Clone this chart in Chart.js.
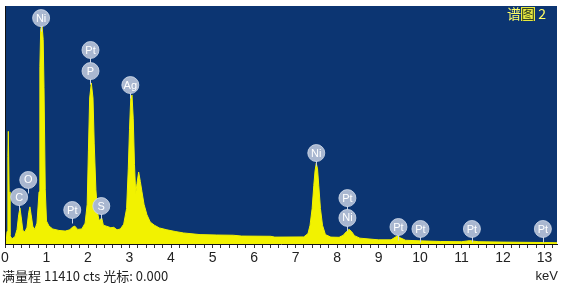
<!DOCTYPE html>
<html>
<head>
<meta charset="utf-8">
<script src="https://cdn.jsdelivr.net/npm/chart.js@4.4.1/dist/chart.umd.min.js"></script>
<style>
html,body{margin:0;padding:0;background:#fff;}
#wrap{width:561px;height:294px;}
</style>
</head>
<body>
<div id="wrap"><canvas id="c" width="561" height="294"></canvas></div>
<script>
// Spectrum (energy in keV, counts)
const keV = [0.00,0.03,0.05,0.07,0.08,0.10,0.12,0.17,0.24,0.29,0.33,0.36,0.39,0.43,0.48,0.53,0.57,0.60,0.63,0.67,0.72,0.77,0.82,0.84,0.86,0.89,0.92,0.94,0.97,1.00,1.06,1.15,1.30,1.45,1.56,1.62,1.68,1.75,1.85,1.93,1.98,2.01,2.04,2.08,2.12,2.15,2.19,2.23,2.27,2.30,2.33,2.37,2.45,2.55,2.62,2.70,2.78,2.86,2.93,2.97,3.00,3.03,3.06,3.09,3.12,3.15,3.18,3.22,3.26,3.30,3.35,3.42,3.50,3.60,3.72,3.90,4.10,4.30,4.70,5.10,5.50,5.70,6.40,6.50,7.20,7.30,7.35,7.40,7.44,7.47,7.50,7.53,7.56,7.60,7.65,7.72,7.85,8.05,8.15,8.22,8.29,8.35,8.42,8.55,9.00,9.30,9.40,9.46,9.52,9.65,10.00,10.50,11.00,11.20,11.40,12.00,13.00,13.30];
const counts = [0,150,600,4200,5400,2500,400,250,350,700,1400,1730,1300,650,580,800,1500,1780,1400,850,700,1000,2500,8500,10300,10550,9800,7500,2600,1100,860,720,650,620,680,800,860,700,720,1000,1900,4500,7000,7720,7000,4800,2600,1500,1100,1200,1250,900,850,780,800,680,720,950,1700,3600,5500,7000,7140,6000,3800,2400,2900,3450,3000,2500,1900,1400,1050,900,770,680,600,530,450,430,420,380,370,330,340,500,900,1700,2800,3500,3880,3600,2800,1700,900,450,330,320,420,580,700,600,400,280,200,200,320,400,300,180,150,120,110,160,110,90,70,60];

// Element markers
const labelNames = ['Ni','Pt','P','Ag','C','O','Pt','S','Ni','Pt','Ni','Pt','Pt','Pt','Pt'];
const labelKeV   = [0.87,2.06,2.06,3.02,0.34,0.56,1.62,2.32,7.50,8.25,8.25,9.48,10.01,11.25,12.96];
const labelCts   = [10830,9300,8290,7620,2250,3070,1630,1820,4360,2200,1250,815,720,720,720];

const fullScale = 11410;
const xMin = 0, xMax = 13.3;
const tickStep = 0.2;
const titleText = '谱图 2';
const footerText = '满量程 11410 cts 光标: 0.000';
const unitText = 'keV';

const BLUE = '#0c3572';
const YELLOW = '#f2f200';

const bgPlugin = {
  id: 'bg',
  beforeDraw(chart) {
    const {ctx, chartArea: a} = chart;
    ctx.save();
    ctx.fillStyle = '#ffffff';
    ctx.fillRect(0, 0, chart.width, chart.height);
    ctx.fillStyle = BLUE;
    ctx.fillRect(a.left, a.top, a.right - a.left, a.bottom - a.top);
    ctx.restore();
  },
  afterDatasetsDraw(chart) {
    const {ctx, chartArea: a, scales} = chart;
    const xs = scales.x, ys = scales.y;
    ctx.save();
    // left dark edge
    ctx.strokeStyle = '#111';
    ctx.lineWidth = 1;
    ctx.beginPath();
    ctx.moveTo(a.left + 0.5, a.top);
    ctx.lineTo(a.left + 0.5, a.bottom);
    ctx.stroke();
    // markers
    const r = 8.5;
    for (let i = 0; i < labelNames.length; i++) {
      const px = xs.getPixelForValue(labelKeV[i]);
      const py = ys.getPixelForValue(labelCts[i]);
      ctx.strokeStyle = '#c8d2e4';
      ctx.lineWidth = 1;
      ctx.beginPath();
      ctx.moveTo(Math.round(px) + 0.5, py);
      ctx.lineTo(Math.round(px) + 0.5, py + r + 5);
      ctx.stroke();
    }
    for (let i = 0; i < labelNames.length; i++) {
      const px = xs.getPixelForValue(labelKeV[i]);
      const py = ys.getPixelForValue(labelCts[i]);
      ctx.beginPath();
      ctx.arc(px, py, r, 0, Math.PI * 2);
      ctx.fillStyle = '#a9b7d0';
      ctx.fill();
      ctx.strokeStyle = 'rgba(210,220,235,0.8)';
      ctx.lineWidth = 1;
      ctx.stroke();
      ctx.fillStyle = '#ffffff';
      ctx.font = '11px "Liberation Sans", Arial, sans-serif';
      ctx.textAlign = 'center';
      ctx.textBaseline = 'middle';
      ctx.fillText(labelNames[i], px, py + 0.5);
    }
    // title top right
    ctx.font = '14px "Noto Sans CJK SC", sans-serif';
    ctx.textBaseline = 'middle';
    ctx.textAlign = 'left';
    const parts = titleText.split('');
    let tx = 507;
    const ty = 14;
    ctx.fillStyle = '#ffff66';
    ctx.fillText(parts[0], tx, ty);
    tx += ctx.measureText(parts[0]).width;
    const w1 = ctx.measureText(parts[1]).width;
    ctx.fillStyle = '#e8e840';
    ctx.fillRect(tx, ty - 7, w1, 14);
    ctx.fillStyle = '#334422';
    ctx.fillText(parts[1], tx, ty);
    tx += w1;
    ctx.fillStyle = '#ffff66';
    ctx.fillText(parts.slice(2).join(''), tx, ty);
    // footer
    ctx.fillStyle = '#222';
    ctx.font = '13px "Noto Sans CJK SC", "Liberation Sans", sans-serif';
    ctx.textAlign = 'left';
    ctx.fillText(footerText, 2, 276);
    ctx.font = '13px "Liberation Sans", Arial, sans-serif';
    ctx.textAlign = 'right';
    ctx.fillText(unitText, 558, 276);
    ctx.restore();
  }
};

new Chart(document.getElementById('c'), {
  type: 'line',
  data: {
    datasets: [{
      data: keV.map((v, i) => ({x: v, y: counts[i]})),
      borderColor: YELLOW,
      backgroundColor: YELLOW,
      borderWidth: 1,
      pointRadius: 0,
      fill: 'origin',
      tension: 0
    }]
  },
  options: {
    responsive: false,
    animation: false,
    devicePixelRatio: 1,
    layout: {padding: {left: 5, right: 4, top: 6, bottom: 0}},
    plugins: {legend: {display: false}, tooltip: {enabled: false}},
    scales: {
      x: {
        type: 'linear',
        min: xMin,
        max: xMax,
        afterFit(s) { s.height = 50; s.paddingLeft = 0; s.paddingRight = 0; },
        border: {display: true, color: '#111', width: 1},
        grid: {drawOnChartArea: false, drawTicks: true, tickLength: 4, tickColor: '#333'},
        ticks: {
          stepSize: tickStep,
          autoSkip: false,
          maxTicksLimit: 200,
          includeBounds: false,
          maxRotation: 0,
          padding: 2,
          color: '#222',
          font: {family: '"Liberation Sans", Arial, sans-serif', size: 14},
          callback(v) {
            const r = Math.round(v);
            return Math.abs(v - r) < 1e-6 ? String(r) : '';
          }
        }
      },
      y: {
        display: false,
        min: 0,
        max: fullScale
      }
    }
  },
  plugins: [bgPlugin]
});
</script>
</body>
</html>
